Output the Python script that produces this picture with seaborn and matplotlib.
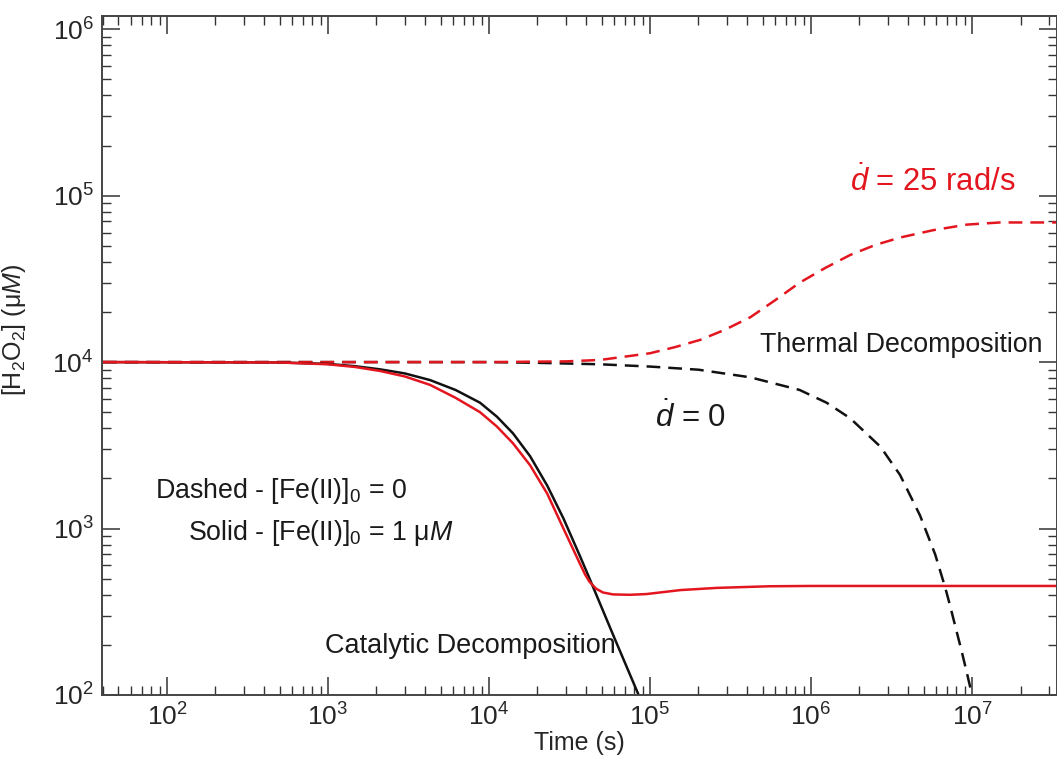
import numpy as np
import pandas as pd
import matplotlib
matplotlib.use("Agg")
import matplotlib.pyplot as plt
import matplotlib.ticker as mticker
import seaborn as sns

# ==========================
# Data
# ==========================

# solid black: [Fe(II)]0 = 1 uM, d = 0
time_solid_black = [40, 500, 1000, 1470, 2100, 3000, 4300, 6200, 8800, 11200,
                    14100, 18000, 23000, 29000, 36700, 42000, 60000, 85000]
h2o2_solid_black = [1e4, 9.95e3, 9.75e3, 9.45e3, 9.05e3, 8.55e3, 7.8e3, 6.8e3, 5.7e3, 4.7e3,
                    3.73e3, 2.72e3, 1.81e3, 1.15e3, 684, 504, 221, 100]

# solid red: [Fe(II)]0 = 1 uM, d = 25 rad/s
time_solid_red = [40, 500, 1000, 1470, 2100, 3000, 4300, 6200, 8800, 11200,
                  14100, 18000, 23000, 29000, 36700, 39500, 42000, 46300,
                  51000, 59000, 75000, 95000, 155000, 260000, 550000,
                  1e6, 3.4e7]
h2o2_solid_red = [1e4, 9.95e3, 9.7e3, 9.35e3, 8.85e3, 8.2e3, 7.3e3, 6.1e3, 5.0e3, 4.1e3,
                  3.25e3, 2.4e3, 1.62e3, 1.0e3, 615, 530, 480, 435,
                  413, 402, 400, 404, 427, 440, 450,
                  452, 452]

# dashed red: [Fe(II)]0 = 0, d = 25 rad/s
time_dash_red = [40, 1e3, 1e4, 3e4, 4.9e4, 1e5, 1.43e5, 2.05e5, 2.9e5, 4.2e5,
                 5.97e5, 8.5e5, 1.22e6, 1.75e6, 2.5e6, 3.57e6, 5.73e6, 9.3e6,
                 1.49e7, 3.4e7]
h2o2_dash_red = [1e4, 1e4, 1.0e4, 1.01e4, 1.03e4, 1.13e4, 1.23e4, 1.36e4, 1.56e4, 1.86e4,
                 2.35e4, 3.0e4, 3.67e4, 4.4e4, 5.05e4, 5.6e4, 6.2e4, 6.7e4,
                 6.9e4, 6.9e4]

# dashed black: [Fe(II)]0 = 0, d = 0
time_dash_black = [40, 1e3, 1e4, 2e4, 4.9e4, 1e5, 2e5, 4.2e5, 8.5e5, 1.25e6,
                   1.75e6, 2.7e6, 3.57e6, 4.75e6, 5.9e6, 6.8e6, 7.3e6, 7.9e6,
                   8.6e6, 9.3e6, 1e7]
h2o2_dash_black = [1e4, 1e4, 1e4, 9.9e3, 9.7e3, 9.4e3, 9.0e3, 8.1e3, 6.8e3, 5.7e3,
                   4.6e3, 3.1e3, 2.1e3, 1.2e3, 700, 445, 345, 255,
                   185, 135, 100]

RED = "#e3161f"
BLACK = "#111111"

# ==========================
# Style
# ==========================

sns.set_style("ticks")
plt.rcParams["font.family"] = ["Liberation Sans", "DejaVu Sans"]
plt.rcParams["mathtext.fontset"] = "custom"
plt.rcParams["mathtext.rm"] = "Liberation Sans"
plt.rcParams["mathtext.it"] = "Liberation Sans:italic"
plt.rcParams["mathtext.bf"] = "Liberation Sans:bold"
plt.rcParams["text.color"] = "#1a1a1a"

fig = plt.figure(figsize=(10.57, 7.68), dpi=100)
ax = fig.add_axes([102 / 1057, 1 - 695 / 768, 1 - 102 / 1057, (695 - 16) / 768])

dash = (0, (5.5, 3.2))
sns.lineplot(x=time_dash_black, y=h2o2_dash_black, ax=ax, color=BLACK,
             linewidth=1.8, linestyle=dash)
sns.lineplot(x=time_dash_red, y=h2o2_dash_red, ax=ax, color=RED,
             linewidth=1.8, linestyle=dash)
sns.lineplot(x=time_solid_black, y=h2o2_solid_black, ax=ax, color=BLACK,
             linewidth=1.8)
sns.lineplot(x=time_solid_red, y=h2o2_solid_red, ax=ax, color=RED,
             linewidth=1.8)

ax.set_xscale("log")
ax.set_yscale("log")
ax.set_xlim(39.5, 3.37e7)
ax.set_ylim(100, 1.2e6)

ax.xaxis.set_major_locator(mticker.FixedLocator(10.0 ** np.arange(2, 8)))
ax.yaxis.set_major_locator(mticker.FixedLocator(10.0 ** np.arange(2, 7)))
ax.xaxis.set_major_formatter(mticker.LogFormatterSciNotation())
ax.yaxis.set_major_formatter(mticker.LogFormatterSciNotation())
ax.xaxis.set_minor_locator(mticker.LogLocator(base=10, subs=np.arange(2, 10), numticks=20))
ax.yaxis.set_minor_locator(mticker.LogLocator(base=10, subs=np.arange(2, 10), numticks=20))
ax.xaxis.set_minor_formatter(mticker.NullFormatter())
ax.yaxis.set_minor_formatter(mticker.NullFormatter())

for side in ["top", "right", "bottom", "left"]:
    ax.spines[side].set_visible(True)
    ax.spines[side].set_linewidth(1.4)
    ax.spines[side].set_color("#444444")

ax.tick_params(which="both", direction="in", top=True, right=True,
               color="#333333", labelsize=19)
ax.tick_params(which="major", length=13, width=1.1, pad=6)
ax.tick_params(which="minor", length=6.5, width=1.0)

ax.set_xlabel("Time (s)", fontsize=18, labelpad=0)
ax.set_ylabel(r"[H$_2$O$_2$] (μ$M$)", fontsize=18)
ax.yaxis.set_label_coords(-0.078, 0.537)

# ==========================
# Annotations
# ==========================

ax.text(0.783, 0.742, r"$\dot{d}$ = 25 rad/s", transform=ax.transAxes,
        fontsize=22.3, color=RED, va="baseline")
ax.text(0.689, 0.505, "Thermal Decomposition", transform=ax.transAxes,
        fontsize=19.3, va="baseline")
ax.text(0.579, 0.395, r"$\dot{d}$ = 0", transform=ax.transAxes,
        fontsize=22.5, va="baseline")
ax.text(0.0555, 0.290, r"Dashed - [Fe(II)]$_0$ = 0", transform=ax.transAxes,
        fontsize=19.3, va="baseline")
ax.text(0.090, 0.228, r"Solid - [Fe(II)]$_0$ = 1 μ$M$", transform=ax.transAxes,
        fontsize=19.3, va="baseline")
ax.text(0.2335, 0.062, "Catalytic Decomposition", transform=ax.transAxes,
        fontsize=19.5, va="baseline")

fig.savefig("out.png", dpi=100)
